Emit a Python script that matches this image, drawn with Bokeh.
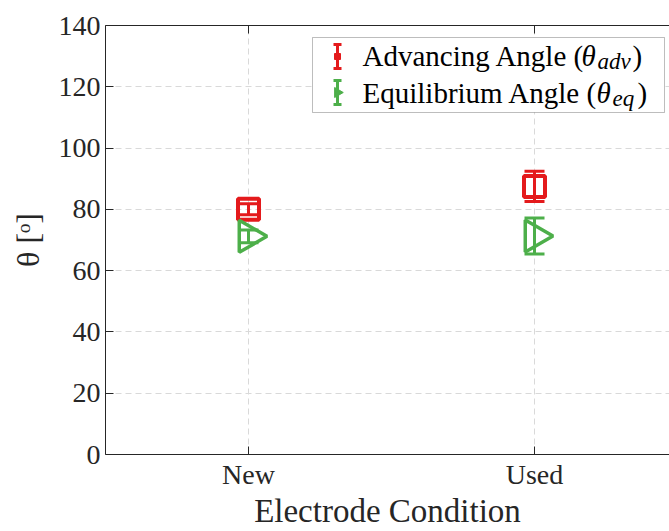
import numpy as np
from bokeh.plotting import figure
from bokeh.models import (Range1d, LinearAxis, FixedTicker, Whisker, TeeHead,
                          ColumnDataSource, Label, BoxAnnotation)
from bokeh.embed import file_html
from bokeh.resources import INLINE

# ---- data ----
conditions = ["New", "Used"]
adv_mean = [80.0, 87.5]
adv_err = [1.8, 4.9]
eq_mean = [71.2, 71.3]
eq_err = [2.1, 5.9]
y_ticks = [0, 20, 40, 60, 80, 100, 120, 140]
legend_main = ["Advancing Angle (", "Equilibrium Angle ("]
legend_subs = ["adv", "eq"]
x_label = "Electrode Condition"
y_label = "θ [ᵒ]"

RED = "#E41A1C"
GREEN = "#4DAF4A"
INK = "#262626"
FONT = "'Liberation Serif', 'DejaVu Serif', serif"

x_pos = [i + 1 for i in range(len(conditions))]

W, H = 669, 531
ML, MT, MB = 105, 25, 77
PX_PER_X = 286.0
XMIN = 0.5
XMAX = XMIN + (W - ML) / PX_PER_X
FL, FT, FB = ML, MT, H - MB


def px2x(px):
    return XMIN + (px - FL) / PX_PER_X


def py2y(py):
    return (FB - py) * 140.0 / (FB - FT)


p = figure(width=W, height=H, output_backend="svg", toolbar_location=None,
           x_range=Range1d(XMIN, XMAX), y_range=Range1d(0, 140),
           min_border_left=ML, min_border_top=MT, min_border_bottom=MB,
           min_border_right=0)
p.outline_line_color = None
p.background_fill_color = "white"
p.border_fill_color = "white"

# x axis (bottom)
xa = p.xaxis[0]
xa.ticker = FixedTicker(ticks=x_pos)
xa.major_label_overrides = {x: c for x, c in zip(x_pos, conditions)}
xa.axis_label = x_label

# y axis
ya = p.yaxis[0]
ya.ticker = FixedTicker(ticks=y_ticks)
ya.axis_label = y_label

for ax in (xa, ya):
    ax.major_tick_in = 8
    ax.major_tick_out = 0
    ax.minor_tick_in = 0
    ax.minor_tick_out = 0
    ax.axis_line_color = INK
    ax.major_tick_line_color = INK
    ax.major_label_text_font = FONT
    ax.major_label_text_font_size = "28px"
    ax.major_label_text_color = INK
    ax.axis_label_text_font = FONT
    ax.axis_label_text_font_style = "normal"
    ax.axis_label_text_color = INK

xa.major_label_standoff = 4
xa.axis_label_standoff = 0
xa.axis_label_text_font_size = "33px"
ya.major_label_standoff = 5
ya.axis_label_standoff = 10
ya.axis_label_text_font_size = "32px"

# top axis (frame edge with inward ticks)
top = LinearAxis(ticker=FixedTicker(ticks=x_pos),
                 major_label_overrides={x: "" for x in x_pos},
                 major_label_text_font_size="0px", major_label_standoff=0,
                 major_tick_in=8, major_tick_out=0, minor_tick_in=0, minor_tick_out=0,
                 axis_line_color=INK, major_tick_line_color=INK)
p.add_layout(top, "above")

# grid
p.xgrid.ticker = FixedTicker(ticks=x_pos)
for g in (p.xgrid, p.ygrid):
    g.grid_line_color = "#d9d9d9"
    g.grid_line_dash = "6 4"
    g.grid_line_width = 1

# ---- data marks ----
src_adv = ColumnDataSource(dict(x=x_pos, y=adv_mean,
                                lo=[m - e for m, e in zip(adv_mean, adv_err)],
                                hi=[m + e for m, e in zip(adv_mean, adv_err)]))
src_eq = ColumnDataSource(dict(x=x_pos, y=eq_mean,
                               lo=[m - e for m, e in zip(eq_mean, eq_err)],
                               hi=[m + e for m, e in zip(eq_mean, eq_err)]))

for src, col in ((src_adv, RED), (src_eq, GREEN)):
    w = Whisker(source=src, base="x", upper="hi", lower="lo", dimension="height",
                line_color=col, line_width=3, level="glyph",
                upper_head=TeeHead(size=20, line_color=col, line_width=3),
                lower_head=TeeHead(size=20, line_color=col, line_width=3))
    p.add_layout(w)
    if col == RED:
        p.scatter("x", "y", source=src, marker="square", size=21, fill_color=None,
                  line_color=RED, line_width=4)
    else:
        p.scatter("x", "y", source=src, marker="triangle", angle=-np.pi / 2, size=32,
                  fill_color=None, line_color=GREEN, line_width=3.5)

# ---- legend (manual, to allow subscripts) ----
box = BoxAnnotation(left=px2x(312), right=px2x(664), top=py2y(37), bottom=py2y(112),
                    fill_color="white", fill_alpha=1.0, line_color=INK, line_width=1,
                    level="underlay")
p.add_layout(box)

rows_y = [56, 92]
row_base = [55, 92]
cols = [RED, GREEN]
main_w = [219, 234]
sub_w = [35, 25]
for i in range(2):
    gx = px2x(337)
    lsrc = ColumnDataSource(dict(x=[gx], lo=[py2y(rows_y[i] + 12)], hi=[py2y(rows_y[i] - 12)],
                                 y=[py2y(rows_y[i])]))
    p.add_layout(Whisker(source=lsrc, base="x", upper="hi", lower="lo", dimension="height",
                         line_color=cols[i], line_width=3, level="overlay",
                         upper_head=TeeHead(size=8, line_color=cols[i], line_width=3),
                         lower_head=TeeHead(size=8, line_color=cols[i], line_width=3)))
    if i == 0:
        p.scatter("x", "y", source=lsrc, marker="square", size=6, fill_color=RED,
                  line_color=RED, line_width=1)
    else:
        p.scatter("x", "y", source=lsrc, marker="triangle", angle=-np.pi / 2, size=10,
                  fill_color=GREEN, line_color=GREEN, line_width=1)
    x0 = 362
    p.add_layout(Label(x=px2x(x0), y=py2y(row_base[i]), text=legend_main[i],
                       text_font=FONT, text_font_size="29px", text_color="black",
                       text_baseline="alphabetic", text_align="left"))
    xt = x0 + main_w[i]
    p.add_layout(Label(x=px2x(xt), y=py2y(row_base[i]), text="θ",
                       text_font=FONT, text_font_size="29px", text_font_style="italic",
                       text_color="black", text_baseline="alphabetic", text_align="left"))
    xs = xt + 16
    p.add_layout(Label(x=px2x(xs), y=py2y(row_base[i] + 6), text=legend_subs[i],
                       text_font=FONT, text_font_size="23px", text_font_style="italic",
                       text_color="black", text_baseline="alphabetic", text_align="left"))
    p.add_layout(Label(x=px2x(xs + sub_w[i]), y=py2y(row_base[i]), text=")",
                       text_font=FONT, text_font_size="29px", text_color="black",
                       text_baseline="alphabetic", text_align="left"))

open("out.html", "w").write(file_html(p, INLINE))
